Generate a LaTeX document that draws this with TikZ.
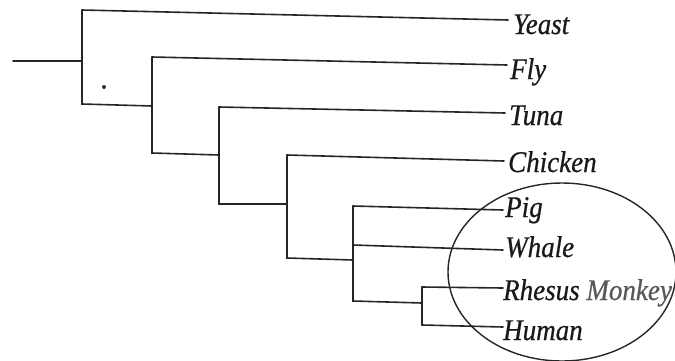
\documentclass[tikz,border=0pt]{standalone}
\usepackage{fontspec}
\newfontfamily\labelfont{Liberation Serif Italic}[FakeStretch=0.9,FakeBold=0.6]
\begin{document}
\begin{tikzpicture}[x=1pt,y=-1pt,
  branch/.style={line width=1.6pt, draw=black!85, line cap=round},
  leaf/.style={anchor=base west, inner sep=0pt, text=black!90,
    font=\labelfont\fontsize{30}{30}\selectfont}]
\useasboundingbox (0,0) rectangle (675,360);

% internal nodes of the tree: top, bottom and incoming point of each split
\coordinate (root) at (13,61);
\coordinate (n1t) at (82,10);  \coordinate (n1m) at (82,61);  \coordinate (n1b) at (82,104);
\coordinate (n2t) at (152,57); \coordinate (n2i) at (152,106); \coordinate (n2b) at (152,153);
\coordinate (n3t) at (219,107); \coordinate (n3i) at (219,155); \coordinate (n3b) at (219,204);
\coordinate (n4t) at (287,155); \coordinate (n4i) at (287,204); \coordinate (n4b) at (287,258);
\coordinate (n5t) at (353,206); \coordinate (n5w) at (353,245); \coordinate (n5i) at (353,260);
\coordinate (n5b) at (353,301);
\coordinate (n6t) at (422,287); \coordinate (n6i) at (422,303); \coordinate (n6b) at (422,325);

% taxon labels
\node[leaf] (yeast)   at (513,34)  {Yeast};
\node[leaf] (fly)     at (510,79)  {Fly};
\node[leaf] (tuna)    at (509,125) {Tuna};
\node[leaf] (chicken) at (508,172) {Chicken};
\node[leaf] (pig)     at (505,217) {Pig};
\node[leaf] (whale)   at (505,257) {Whale};
\node[leaf] (rhesus)  at (503,300) {Rhesus \textcolor{black!65}{Monkey}};
\node[leaf] (human)   at (503,340) {Human};

% stem and splits
\draw[branch] (root) -- (n1m);
\draw[branch] (n1t) -- (n1b) -- (n2i);
\draw[branch] (n2t) -- (n2b) -- (n3i);
\draw[branch] (n3t) -- (n3b) -- (n4i);
\draw[branch] (n4t) -- (n4b) -- (n5i);
\draw[branch] (n5t) -- (n5b) -- (n6i);
\draw[branch] (n6t) -- (n6b);

% terminal branches
\draw[branch] (n1t) -- ([shift={(-5,-14)}]yeast.base west);
\draw[branch] (n2t) -- ([shift={(-3,-14)}]fly.base west);
\draw[branch] (n3t) -- ([shift={(-4,-12)}]tuna.base west);
\draw[branch] (n4t) -- ([shift={(-4,-11)}]chicken.base west);
\draw[branch] (n5t) -- ([shift={(-2,-7)}]pig.base west);
\draw[branch] (n5w) -- ([shift={(-2,-7)}]whale.base west);
\draw[branch] (n6t) -- ([shift={(0,-12)}]rhesus.base west);
\draw[branch] (n6b) -- ([shift={(0,-13)}]human.base west);

% small mark below the stem
\fill[black!80] (104,87) circle (2pt);

% ring round the mammals
\draw[line width=1.4pt, draw=black!85] (562,272) ellipse [x radius=114pt, y radius=89pt];
\end{tikzpicture}
\end{document}
